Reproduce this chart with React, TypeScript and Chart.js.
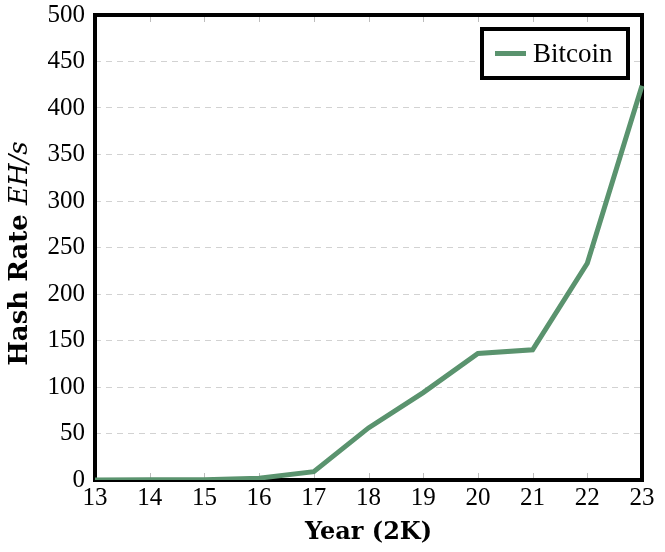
import React, { useEffect, useRef } from "react";
import { Chart, registerables } from "chart.js";

Chart.register(...registerables);

const years = ["13", "14", "15", "16", "17", "18", "19", "20", "21", "22", "23"];
const hashRate = [0.1, 0.2, 0.4, 2, 9, 56, 94, 136, 140, 233, 424];
const seriesLabel = "Bitcoin";
const xTitle = "Year (2K)";
const yTitleBold = "Hash Rate ";
const yTitleItalic = "EH/s";
const yMin = 0;
const yMax = 500;
const yStep = 50;

const lineColor = "rgb(90,147,110)";
const tickFont = "Liberation Serif";
const titleFont = "DejaVu Serif";

const framePlugin = {
  id: "frame",
  beforeDatasetsDraw(chart: any) {
    const { ctx, chartArea } = chart;
    const x = chart.scales.x;
    ctx.save();
    ctx.strokeStyle = "#bdbdbd";
    ctx.lineWidth = 1;
    x.ticks.forEach((_t: any, i: number) => {
      const px = Math.round(x.getPixelForTick(i)) + 0.5;
      ctx.beginPath();
      ctx.moveTo(px, chartArea.bottom);
      ctx.lineTo(px, chartArea.bottom - 7);
      ctx.moveTo(px, chartArea.top);
      ctx.lineTo(px, chartArea.top + 7);
      ctx.stroke();
    });
    ctx.strokeStyle = "#000";
    ctx.lineWidth = 4;
    ctx.strokeRect(
      chartArea.left,
      chartArea.top,
      chartArea.right - chartArea.left,
      chartArea.bottom - chartArea.top
    );
    ctx.restore();
  },
  afterDraw(chart: any) {
    const { ctx, chartArea } = chart;
    ctx.save();
    // legend
    const bx = chartArea.right - 160;
    const by = chartArea.top + 14;
    const bw = 146;
    const bh = 49;
    ctx.fillStyle = "#fff";
    ctx.fillRect(bx, by, bw, bh);
    ctx.strokeStyle = "#000";
    ctx.lineWidth = 4;
    ctx.strokeRect(bx, by, bw, bh);
    ctx.strokeStyle = lineColor;
    ctx.lineWidth = 5;
    ctx.beginPath();
    ctx.moveTo(bx + 13, by + bh / 2);
    ctx.lineTo(bx + 44, by + bh / 2);
    ctx.stroke();
    ctx.fillStyle = "#000";
    ctx.font = `27px "${tickFont}"`;
    ctx.textBaseline = "middle";
    ctx.textAlign = "left";
    ctx.fillText(chart.data.datasets[0].label, bx + 51, by + bh / 2 + 1);

    // x title
    ctx.font = `bold 24px "${titleFont}"`;
    ctx.textAlign = "center";
    ctx.textBaseline = "alphabetic";
    ctx.fillText(xTitle, (chartArea.left + chartArea.right) / 2, 539);

    // y title
    ctx.translate(27, (chartArea.top + chartArea.bottom) / 2 + 6);
    ctx.rotate(-Math.PI / 2);
    const f1 = `bold 26px "${titleFont}"`;
    const f2 = `italic 26px "${titleFont}"`;
    ctx.font = f1;
    const w1 = ctx.measureText(yTitleBold).width;
    ctx.font = f2;
    const w2 = ctx.measureText(yTitleItalic).width;
    const start = -(w1 + w2) / 2;
    ctx.textAlign = "left";
    ctx.font = f1;
    ctx.fillText(yTitleBold, start, 0);
    ctx.font = f2;
    ctx.fillText(yTitleItalic, start + w1, 0);
    ctx.restore();
  },
};

export default function App() {
  const ref = useRef<HTMLCanvasElement>(null);
  useEffect(() => {
    if (!ref.current) return;
    const chart = new Chart(ref.current, {
      type: "line",
      data: {
        labels: years,
        datasets: [
          {
            label: seriesLabel,
            data: hashRate,
            borderColor: lineColor,
            backgroundColor: lineColor,
            borderWidth: 5,
            pointRadius: 0,
            tension: 0,
          },
        ],
      },
      options: {
        animation: false,
        responsive: false,
        layout: { padding: { top: 15, right: 23, left: 0, bottom: 0 } },
        plugins: { legend: { display: false }, tooltip: { enabled: false } },
        scales: {
          x: {
            afterFit: (s: any) => {
              s.height = 72;
              s.paddingLeft = 0;
              s.paddingRight = 0;
            },
            grid: { display: false, drawTicks: false },
            border: { display: false },
            ticks: {
              color: "#000",
              font: { family: tickFont, size: 25 },
              padding: 3,
              maxRotation: 0,
              autoSkip: false,
            },
          },
          y: {
            min: yMin,
            max: yMax,
            afterFit: (s: any) => {
              s.width = 95;
              s.paddingTop = 0;
              s.paddingBottom = 0;
            },
            grid: { color: "#d2d2d2", lineWidth: 1, drawTicks: false },
            border: { display: false, dash: [6, 5] },
            ticks: {
              stepSize: yStep,
              color: "#000",
              font: { family: tickFont, size: 25 },
              padding: 10,
            },
          },
        },
      },
      plugins: [framePlugin],
    });
    return () => chart.destroy();
  }, []);
  return (
    <div style={{ position: "absolute", left: 0, top: 0, width: 665, height: 552, background: "#fff" }}>
      <canvas ref={ref} width={665} height={552} />
    </div>
  );
}
